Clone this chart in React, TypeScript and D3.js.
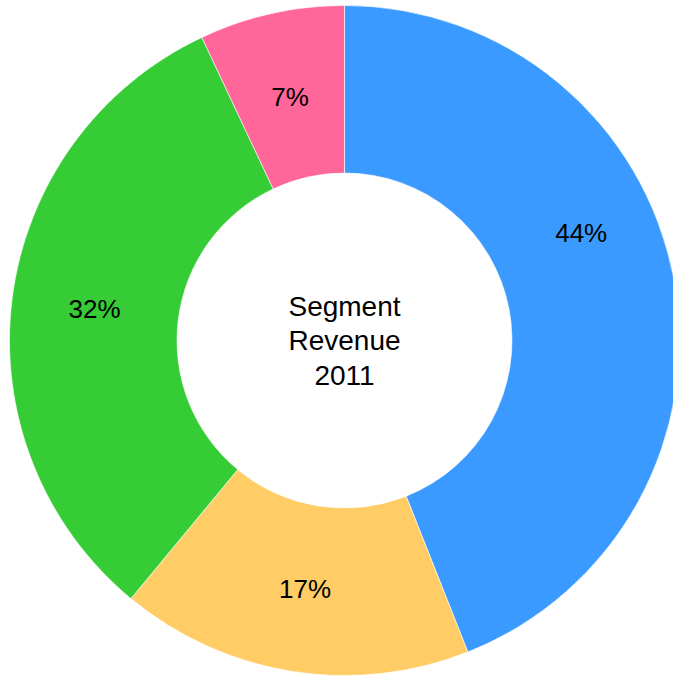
import React, { useEffect, useRef } from 'react';
import * as d3 from 'd3';

// segment shares, clockwise from 12 o'clock
const segments = ['A', 'B', 'C', 'D'];
const values = [44, 17, 32, 7];
const colors = ['#3a9aff', '#ffcc66', '#36cc36', '#ff6699'];
const centerLines = ['Segment', 'Revenue', '2011'];
// where along each slice its label sits (0..1 of the slice's span)
const labelFrac = [0.414, 0.5, 0.5, 0.5];
// label distance from centre, per slice
const labelRadius = [260, 252, 252, 250];

const svgWidth = 673;
const svgHeight = 677;

const App: React.FC = () => {
  const svgRef = useRef<SVGSVGElement | null>(null);

  useEffect(() => {
    const svg = d3.select(svgRef.current);
    svg.selectAll('*').remove();

    const cx = 344.5;
    const cy = 340.5;
    const outerR = 335;
    const innerR = 167.5;

    const pie = d3.pie<number>().sort(null).value((d) => d);
    const arcs = pie(values);
    const arc = d3.arc<d3.PieArcDatum<number>>().innerRadius(innerR).outerRadius(outerR);

    const g = svg.append('g').attr('transform', `translate(${cx},${cy})`);

    g.selectAll('path.slice')
      .data(arcs)
      .enter()
      .append('path')
      .attr('class', 'slice')
      .attr('d', arc)
      .attr('fill', (_, i) => colors[i])
      .attr('stroke', '#ffffff')
      .attr('stroke-width', 0.6);

    const labelAngle = (d: d3.PieArcDatum<number>, i: number) =>
      d.startAngle + (d.endAngle - d.startAngle) * labelFrac[i];

    g.selectAll('text.pct')
      .data(arcs)
      .enter()
      .append('text')
      .attr('class', 'pct')
      .attr('x', (d, i) => labelRadius[i] * Math.sin(labelAngle(d, i)))
      .attr('y', (d, i) => -labelRadius[i] * Math.cos(labelAngle(d, i)))
      .attr('dy', '0.35em')
      .attr('text-anchor', 'middle')
      .attr('font-family', '"Liberation Sans", Arial, sans-serif')
      .attr('font-size', 26)
      .attr('fill', '#000')
      .text((d) => `${d.data}%`);

    const lineH = 34.5;
    g.selectAll('text.center')
      .data(centerLines)
      .enter()
      .append('text')
      .attr('class', 'center')
      .attr('x', 0)
      .attr('y', (_, i) => (i - 1) * lineH)
      .attr('dy', '0.35em')
      .attr('text-anchor', 'middle')
      .attr('font-family', '"Liberation Sans", Arial, sans-serif')
      .attr('font-size', 28)
      .attr('fill', '#000')
      .text((d) => d);
  }, []);

  return (
    <svg
      width={svgWidth}
      height={svgHeight}
      ref={svgRef}
      style={{ position: 'absolute', left: 0, top: 0 }}
      data-segments={segments.join(',')}
    />
  );
};

export default App;
